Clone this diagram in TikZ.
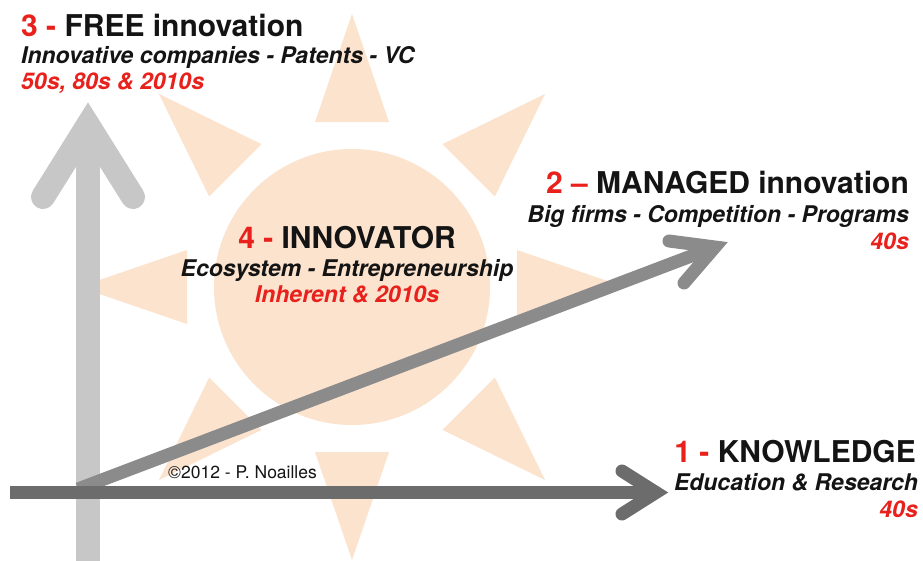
\documentclass[tikz,border=0pt]{standalone}
\usepackage{fontspec}
\setmainfont{TeX Gyre Heros}

\definecolor{sunpeach}{RGB}{251,227,206}
\definecolor{erared}{RGB}{232,33,28}
\definecolor{inkblack}{RGB}{20,20,20}
\definecolor{freegray}{RGB}{199,199,199}
\definecolor{managedgray}{RGB}{139,139,139}
\definecolor{knowgray}{RGB}{108,108,108}

\tikzset{
  sun/.style={fill=sunpeach},
  title/.style={font=\fontsize{30pt}{36pt}\selectfont\bfseries, text=inkblack, inner sep=0pt},
  sub/.style={font=\fontsize{23pt}{28pt}\selectfont\bfseries\itshape, text=inkblack, inner sep=0pt},
  era/.style={sub, text=erared},
  barb/.style={line cap=round, line join=miter, miter limit=10},
}

\newcommand{\num}[1]{{\color{erared}#1}}

\begin{document}
\begin{tikzpicture}[x=1pt, y=-1pt]

    \useasboundingbox (0,0) rectangle (923,560);
    \fill[white] (0,0) rectangle (923,560);

    % Sun: disc and eight rays
    \fill[sun] (352,287) circle (138pt);
    \foreach \a in {0,45,...,315}
        \fill[sun, shift={(352,287)}, rotate=\a] (273,0) -- (165,37) -- (165,-37) -- cycle;

    % Arrow end points
    \coordinate (free foot) at (88,570);
    \coordinate (free tip) at (88,125);
    \coordinate (managed foot) at (78,489);
    \coordinate (managed tip) at (715,247);
    \coordinate (know foot) at (10,492.5);
    \coordinate (know tip) at (656,492.5);

    % 3 - free innovation (vertical)
    \draw[freegray, line width=24pt] (free foot) -- (free tip);
    \draw[freegray, line width=24pt, barb] (43,197) -- (free tip) -- (133,197);

    % 2 - managed innovation (diagonal)
    \draw[managedgray, line width=13pt] (managed foot) -- (managed tip);
    \draw[managedgray, line width=13pt, barb] (669,241) -- (managed tip) -- (684,283);

    % 1 - knowledge (horizontal)
    \draw[knowgray, line width=13pt] (know foot) -- (know tip);
    \draw[knowgray, line width=13pt, barb] (622,471) -- (know tip) -- (622,514);

    % Labels
    \node[title, anchor=base west] (free) at (21,36) {\num{3 -} FREE innovation};
    \node[sub, anchor=base west] (free sub) at (21,63) {Innovative companies - Patents - VC};
    \node[era, anchor=base west] (free era) at (21,89) {50s, 80s \& 2010s};

    \node[title, anchor=base east] (managed) at (909,193) {\num{2 --} MANAGED innovation};
    \node[sub, anchor=base east] (managed sub) at (909,222) {Big firms - Competition - Programs};
    \node[era, anchor=base east] (managed era) at (909,249) {40s};

    \node[title, anchor=base] (innovator) at (347,248) {\num{4 -} INNOVATOR};
    \node[sub, anchor=base] (innovator sub) at (347,276) {Ecosystem - Entrepreneurship};
    \node[era, anchor=base] (innovator era) at (347,302) {Inherent \& 2010s};

    \node[title, anchor=base east] (know) at (916,462) {\num{1 -} KNOWLEDGE};
    \node[sub, anchor=base east] (know sub) at (918,490) {Education \& Research};
    \node[era, anchor=base east] (know era) at (918,517) {40s};

    \node[anchor=base west, inner sep=0pt, text=inkblack, font=\fontsize{17.5pt}{21pt}\selectfont] (copyright) at (168,478) {\textcopyright 2012 - P. Noailles};

\end{tikzpicture}
\end{document}
